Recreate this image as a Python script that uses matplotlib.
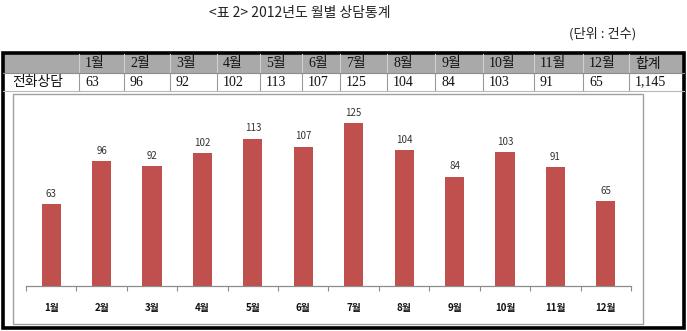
import matplotlib
matplotlib.use("Agg")
from matplotlib import pyplot as plt
from matplotlib.patches import Rectangle
import numpy as np

plt.rcParams["font.family"] = ["Noto Sans CJK KR", "DejaVu Sans"]

months = ["1월", "2월", "3월", "4월", "5월", "6월", "7월", "8월", "9월", "10월", "11월", "12월"]
counts = [63, 96, 92, 102, 113, 107, 125, 104, 84, 103, 91, 65]
row_label = "전화상담"
total_label = "합계"
title = "<표 2> 2012년도 월별 상담통계"
unit = "(단위 : 건수)"

W, H = 687, 331
fig = plt.figure(figsize=(W / 100, H / 100), dpi=100)

# overlay axes in pixel coordinates for the table part
ov = fig.add_axes([0, 0, 1, 1], zorder=0)
ov.set_xlim(0, W)
ov.set_ylim(H, 0)
ov.axis("off")

ov.text(300, 13, title, ha="center", va="center", fontsize=10, color="#222222")
ov.text(636, 34, unit, ha="right", va="center", fontsize=9.5, color="#222222")

# column edges of the table (pixels)
edges = [3, 79, 124, 170, 217, 260, 302, 340, 387, 435, 483, 534, 583, 629, 684]
head_top, head_bot, row_bot = 54, 73, 91

ov.add_patch(Rectangle((3, head_top), 681, head_bot - head_top, color="#a9a9a9", lw=0))
for x in edges[1:-1]:
    ov.plot([x, x], [head_top, head_bot], color="#d0d0d0", lw=0.8)
    ov.plot([x, x], [head_bot, row_bot], color="#9a9a9a", lw=0.8)
ov.plot([3, 684], [head_bot, head_bot], color="#8c8c8c", lw=0.8)
ov.plot([3, 684], [row_bot, row_bot], color="#b8b8b8", lw=0.8)

serif = ["Liberation Serif", "Noto Sans CJK KR"]
head_labels = months + [total_label]
row_values = [str(v) for v in counts] + [f"{sum(counts):,}"]
for i, (hl, rv) in enumerate(zip(head_labels, row_values)):
    x0 = edges[i + 1] + 6
    ov.text(x0, 64, hl, ha="left", va="center", fontsize=10, family=serif, color="#111111")
    ov.text(x0, 82, rv, ha="left", va="center", fontsize=10, family=serif, color="#111111")
ov.text(12, 82, row_label, ha="left", va="center", fontsize=10, color="#111111")

# chart frame inside the table
ov.add_patch(Rectangle((13, 94), 630, 230, fill=False, ec="#a0a0a0", lw=1))
# outer thick border
ov.add_patch(Rectangle((3, 53), 681, 275, fill=False, ec="black", lw=2.6))

# bar chart
scale = 1.306
top_val = 140
ax = fig.add_axes([26 / W, (H - 286.3) / H, 605 / W, top_val * scale / H], zorder=1)
ax.patch.set_alpha(0)
x = np.arange(len(months))
ax.bar(x, counts, width=0.38, color="#c0504d")
for xi, v in zip(x, counts):
    ax.text(xi, v + 4, str(v), ha="center", va="bottom", fontsize=7, color="#333333")

ax.set_xlim(-0.5, len(months) - 0.5)
ax.set_ylim(0, top_val)
for s in ["top", "right", "left"]:
    ax.spines[s].set_visible(False)
ax.spines["bottom"].set_color("#8c8c8c")
ax.spines["bottom"].set_linewidth(0.9)
ax.set_yticks([])
ax.set_xticks(x)
ax.set_xticklabels(months, fontsize=7, fontweight="bold", color="#111111")
ax.tick_params(axis="x", which="major", length=0, pad=12)
ax.set_xticks(np.arange(-0.5, len(months)), minor=True)
ax.tick_params(axis="x", which="minor", length=3.5, color="#8c8c8c", width=0.8)

fig.savefig("out.png", dpi=100)
